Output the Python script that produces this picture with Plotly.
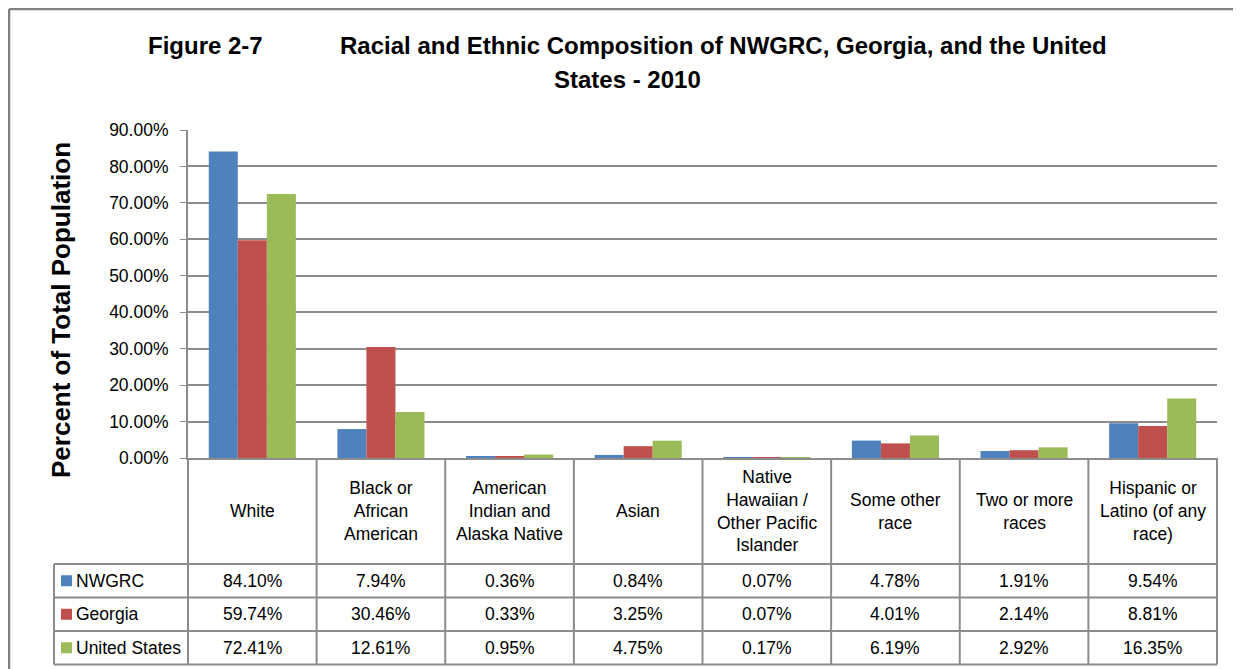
import plotly.graph_objects as go

# ---- data ----
categories = [
    "White",
    "Black or<br>African<br>American",
    "American<br>Indian and<br>Alaska Native",
    "Asian",
    "Native<br>Hawaiian /<br>Other Pacific<br>Islander",
    "Some other<br>race",
    "Two or more<br>races",
    "Hispanic or<br>Latino (of any<br>race)",
]
series_names = ["NWGRC", "Georgia", "United States"]
nwgrc = [84.10, 7.94, 0.36, 0.84, 0.07, 4.78, 1.91, 9.54]
georgia = [59.74, 30.46, 0.33, 3.25, 0.07, 4.01, 2.14, 8.81]
united_states = [72.41, 12.61, 0.95, 4.75, 0.17, 6.19, 2.92, 16.35]
series_values = [nwgrc, georgia, united_states]
colors = ["#4F81BD", "#C0504D", "#9BBB59"]
y_ticks = [0, 10, 20, 30, 40, 50, 60, 70, 80, 90]

# ---- layout geometry (screen pixels) ----
W, H = 1241, 669
OFF = 8                      # page offset of the figure in the browser
PL, PR = 188, 1217          # plot area left/right
PT, PB = 130, 458           # plot area top/bottom (90% / 0%)
ROWS = [564, 597.5, 631, 664.5]  # table horizontal lines
TL = 54                      # table left edge
FONT = "Liberation Sans Narrow, Arial Narrow, Liberation Sans, Arial, sans-serif"
GRID = "#8C8C8C"
FS = 17.5


def X(px):
    return (px - OFF) / W


def Y(py):
    return 1 - (py - OFF) / H


n = len(categories)
idx = list(range(n))

fig = go.Figure()
for name, vals, col in zip(series_names, series_values, colors):
    fig.add_trace(go.Bar(x=idx, y=vals, name=name, marker=dict(color=col, line=dict(width=0)),
                         showlegend=False))

shapes = []
annotations = []

# outer frame
shapes.append(dict(type="line", xref="paper", yref="paper", x0=X(9), x1=X(W + OFF), y0=Y(9), y1=Y(9),
                   line=dict(color="#808080", width=2.5)))
shapes.append(dict(type="line", xref="paper", yref="paper", x0=X(9), x1=X(9), y0=Y(9), y1=Y(H + OFF),
                   line=dict(color="#808080", width=2.5)))

# table lines
cw = (PR - PL) / n
for k in range(n + 1):
    xx = PL + k * cw
    shapes.append(dict(type="line", xref="paper", yref="paper", x0=X(xx), x1=X(xx), y0=Y(PB), y1=Y(ROWS[-1]),
                       line=dict(color=GRID, width=2)))
shapes.append(dict(type="line", xref="paper", yref="paper", x0=X(TL), x1=X(TL), y0=Y(ROWS[0]), y1=Y(ROWS[-1]),
                   line=dict(color=GRID, width=2)))
for ry in ROWS:
    shapes.append(dict(type="line", xref="paper", yref="paper", x0=X(TL), x1=X(PR), y0=Y(ry), y1=Y(ry),
                       line=dict(color=GRID, width=2)))

# category header labels
for k, cat in enumerate(categories):
    annotations.append(dict(xref="paper", yref="paper", x=X(PL + (k + 0.5) * cw), y=Y((PB + ROWS[0]) / 2),
                            text=cat, showarrow=False, xanchor="center", yanchor="middle",
                            font=dict(family=FONT, size=FS, color="#000")))

# data rows
for r, (name, vals, col) in enumerate(zip(series_names, series_values, colors)):
    cy = (ROWS[r] + ROWS[r + 1]) / 2
    shapes.append(dict(type="rect", xref="paper", yref="paper", x0=X(61), x1=X(72), y0=Y(cy - 5.5), y1=Y(cy + 5.5),
                       fillcolor=col, line=dict(width=0)))
    annotations.append(dict(xref="paper", yref="paper", x=X(74), y=Y(cy), text=name, showarrow=False,
                            xanchor="left", yanchor="middle", font=dict(family=FONT, size=FS, color="#000")))
    for k, v in enumerate(vals):
        annotations.append(dict(xref="paper", yref="paper", x=X(PL + (k + 0.5) * cw), y=Y(cy),
                                text=f"{v:.2f}%", showarrow=False, xanchor="center", yanchor="middle",
                                font=dict(family=FONT, size=FS, color="#000")))

# titles
annotations.append(dict(xref="paper", yref="paper", x=X(205), y=Y(46), text="<b>Figure 2-7</b>", showarrow=False,
                        xanchor="center", yanchor="middle", font=dict(family=FONT, size=24, color="#000")))
annotations.append(dict(xref="paper", yref="paper", x=X(723), y=Y(46),
                        text="<b>Racial and Ethnic Composition of NWGRC, Georgia, and the United</b>",
                        showarrow=False, xanchor="center", yanchor="middle",
                        font=dict(family=FONT, size=24, color="#000")))
annotations.append(dict(xref="paper", yref="paper", x=X(627), y=Y(80), text="<b>States - 2010</b>",
                        showarrow=False, xanchor="center", yanchor="middle",
                        font=dict(family=FONT, size=24, color="#000")))
annotations.append(dict(xref="paper", yref="paper", x=X(61), y=Y(310), text="<b>Percent of Total Population</b>",
                        textangle=-90, showarrow=False, xanchor="center", yanchor="middle",
                        font=dict(family="Liberation Sans, Arial, sans-serif", size=26, color="#000")))

fig.update_layout(
    width=W, height=H, autosize=False,
    margin=dict(l=0, r=0, t=0, b=0, pad=0),
    paper_bgcolor="white", plot_bgcolor="white",
    barmode="group", bargap=0.323, bargroupgap=0,
    xaxis=dict(domain=[X(PL), X(PR)], range=[-0.5, n - 0.5], showticklabels=False, showgrid=False,
               zeroline=False, showline=True, linecolor=GRID, linewidth=2, ticks="", automargin=False),
    yaxis=dict(domain=[Y(PB), Y(PT)], range=[0, 90], tickvals=y_ticks,
               ticktext=[f"{t:.2f}%" for t in y_ticks],
               showgrid=True, gridcolor=GRID, gridwidth=1.5, zeroline=False,
               showline=True, linecolor=GRID, linewidth=2, ticks="outside", ticklen=6, tickcolor=GRID,
               ticklabelstandoff=8,
               tickfont=dict(family=FONT, size=FS, color="#000"), automargin=False),
    shapes=shapes, annotations=annotations,
    font=dict(family=FONT),
)

fig.write_html("out.html")
